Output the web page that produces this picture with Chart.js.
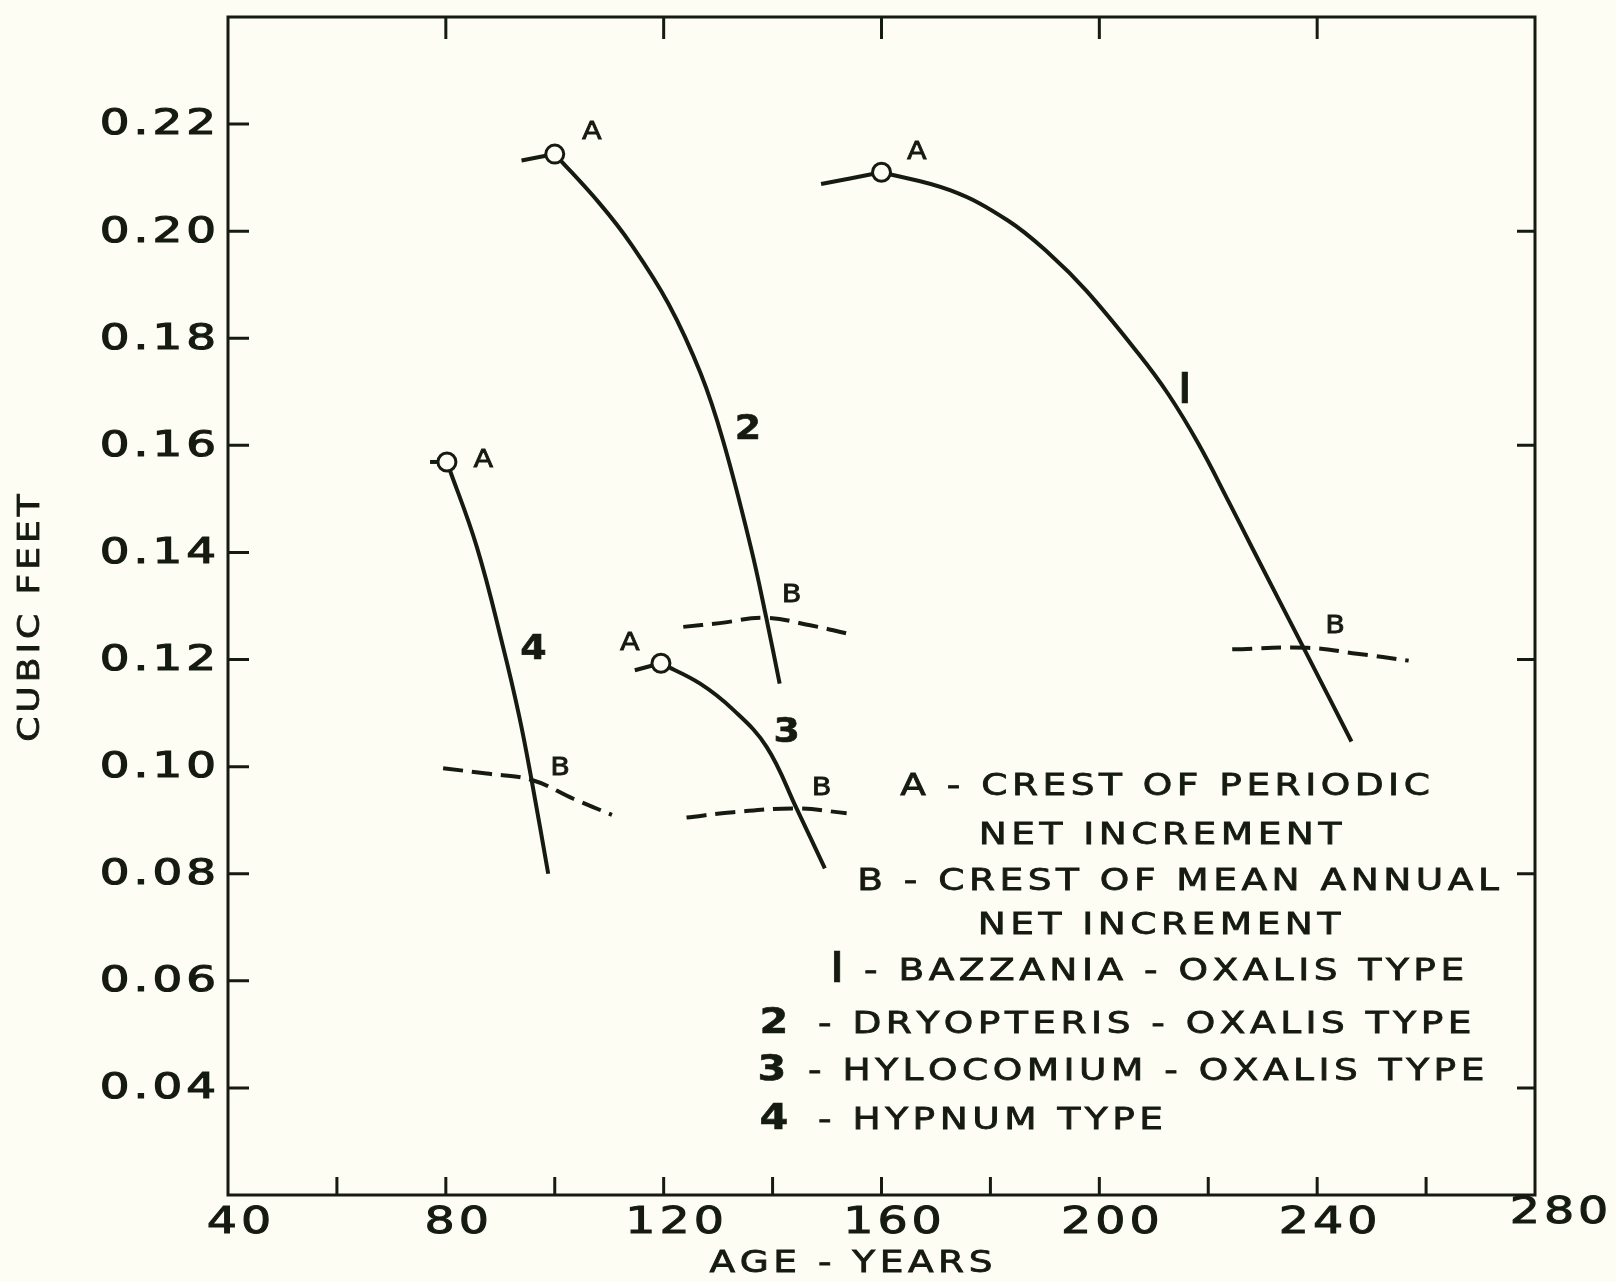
<!DOCTYPE html>
<html>
<head>
<meta charset="utf-8">
<script src="https://cdn.jsdelivr.net/npm/chart.js@4.4.1/dist/chart.umd.min.js"></script>
<style>
  html, body { margin: 0; padding: 0; background: #fdfdf4; }
  #wrap { width: 1616px; height: 1282px; }
</style>
</head>
<body>
<div id="wrap"><canvas id="chart" width="1616" height="1282"></canvas></div>
<script>
// values: age in years, volume in cubic feet

// 1 - Bazzania - Oxalis type (from A downwards)
const curve1Age = [160, 172.7, 183.2, 190.9, 197.6, 207.2, 212.7, 218.2, 223.7, 228.2, 237.7, 246.3];
const curve1Vol = [0.2110, 0.2076, 0.2020, 0.1957, 0.1889, 0.1771, 0.1695, 0.1603, 0.1496, 0.1406, 0.1218, 0.1047];
// 2 - Dryopteris - Oxalis type
const curve2Age = [100, 108.3, 114.0, 120.9, 126.8, 130.9, 136.0, 138.8, 141.3];
const curve2Vol = [0.2144, 0.2051, 0.1976, 0.1864, 0.1734, 0.1609, 0.1410, 0.1280, 0.1155];
// 3 - Hylocomium - Oxalis type
const curve3Age = [119.5, 126.7, 132.8, 138.9, 144.4, 149.6];
const curve3Vol = [0.1193, 0.1155, 0.1106, 0.1037, 0.0922, 0.0810];
// 4 - Hypnum type
const curve4Age = [80.2, 85.7, 90.5, 93.5, 95.8, 98.8];
const curve4Vol = [0.1569, 0.1410, 0.1224, 0.1093, 0.0972, 0.0800];

// short lead-in strokes ending at each A
const lead1Age = [148.9, 160];
const lead1Vol = [0.2088, 0.2110];
const lead2Age = [93.9, 100];
const lead2Vol = [0.2132, 0.2144];
const lead3Age = [114.7, 119.5];
const lead3Vol = [0.1180, 0.1193];
const lead4Age = [77.1, 80.2];
const lead4Vol = [0.1569, 0.1569];

// dashed arcs through B (crest of mean annual net increment)
const b1Age = [224.4, 238.2, 247.3, 256.8];
const b1Vol = [0.1219, 0.1222, 0.1211, 0.1198];
const b2Age = [123.6, 130.3, 138.6, 146.9, 153.6];
const b2Vol = [0.1261, 0.1268, 0.1278, 0.1264, 0.1249];
const b3Age = [124.2, 132.8, 144.4, 153.6];
const b3Vol = [0.0905, 0.0915, 0.0922, 0.0913];
const b4Age = [79.5, 87.5, 95.8, 103.4, 110.5];
const b4Vol = [0.0997, 0.0987, 0.0975, 0.0940, 0.0910];

// A points (crest of periodic net increment), curves 1..4
const crestAge = [160, 100, 119.5, 80.2];
const crestVol = [0.2110, 0.2144, 0.1193, 0.1569];

// annotation letters next to the curves, curves 1..4
const aLabelAge = [166.5, 106.8, 113.8, 86.9];
const aLabelVol = [0.2147, 0.2185, 0.1230, 0.1572];
const bLabelAge = [243.3, 143.5, 149.0, 101.0];
const bLabelVol = [0.1261, 0.1320, 0.0959, 0.0997];
const curveNames = ['I', '2', '3', '4'];
const nameAge = [215.7, 135.5, 142.6, 96.1];
const nameVol = [0.1700, 0.1628, 0.1062, 0.1217];

// axes
const xLabels = [40, 80, 120, 160, 200, 240, 280];
const xTicksBottom = [60, 80, 100, 120, 140, 160, 180, 200, 220, 240, 260];
const xTicksTop = [80, 120, 160, 200, 240];
const yLabels = [0.04, 0.06, 0.08, 0.10, 0.12, 0.14, 0.16, 0.18, 0.20, 0.22];
const yTicksRight = [0.04, 0.08, 0.12, 0.16, 0.20];

const keyLines = [
  'A - CREST OF PERIODIC',
  'NET INCREMENT',
  'B - CREST OF MEAN ANNUAL',
  'NET INCREMENT'
];
const keyNumbers = ['I', '2', '3', '4'];
const keyNames = [
  '- BAZZANIA - OXALIS TYPE',
  '- DRYOPTERIS - OXALIS TYPE',
  '- HYLOCOMIUM - OXALIS TYPE',
  '- HYPNUM TYPE'
];

const ink = '#161b12';
const paper = '#fdfdf4';
const FONT = '"DejaVu Sans", sans-serif';

function pts(xs, ys) {
  return xs.map((x, i) => ({ x: x, y: ys[i] }));
}

function solid(label, xs, ys) {
  return {
    label: label, data: pts(xs, ys), showLine: true,
    borderColor: ink, borderWidth: 4, pointRadius: 0,
    tension: 0.4, order: 2
  };
}

function dashed(label, xs, ys) {
  return {
    label: label, data: pts(xs, ys), showLine: true,
    borderColor: ink, borderWidth: 4, borderDash: [20, 9], pointRadius: 0,
    tension: 0.4, order: 2
  };
}

// wide, spaced-out lettering: each glyph stretched sideways by sx,
// with a thin outline so the strokes come out as heavy as the drawing
function spaced(ctx, text, x, y, align, gap, sx, heavy) {
  sx = sx || 1;
  const chars = [...text];
  const ws = chars.map(c => ctx.measureText(c).width * sx);
  const total = ws.reduce((a, b) => a + b, 0) + gap * (chars.length - 1);
  let cx = x;
  if (align === 'center') cx = x - total / 2;
  else if (align === 'right') cx = x - total;
  ctx.textAlign = 'left';
  chars.forEach((c, i) => {
    ctx.save();
    ctx.translate(cx, y);
    ctx.scale(sx, 1);
    ctx.fillText(c, 0, 0);
    if (heavy) {
      ctx.lineWidth = heavy;
      ctx.strokeText(c, 0, 0);
    }
    ctx.restore();
    cx += ws[i] + gap;
  });
}

const paperPlugin = {
  id: 'paper',
  beforeDraw(chart) {
    const ctx = chart.ctx;
    ctx.save();
    ctx.fillStyle = paper;
    ctx.fillRect(0, 0, chart.width, chart.height);
    ctx.restore();
  }
};

const framePlugin = {
  id: 'frame',
  afterDraw(chart) {
    const ctx = chart.ctx;
    const a = chart.chartArea;
    const xs = chart.scales.x;
    const ys = chart.scales.y;
    ctx.save();
    ctx.strokeStyle = ink;
    ctx.fillStyle = ink;
    ctx.lineWidth = 3;
    ctx.lineCap = 'butt';
    ctx.strokeRect(a.left, a.top, a.right - a.left, a.bottom - a.top);

    // inward tick marks
    ctx.beginPath();
    xTicksBottom.forEach(v => {
      const px = xs.getPixelForValue(v);
      ctx.moveTo(px, a.bottom); ctx.lineTo(px, a.bottom - 18);
    });
    xTicksTop.forEach(v => {
      const px = xs.getPixelForValue(v);
      ctx.moveTo(px, a.top); ctx.lineTo(px, a.top + 22);
    });
    yLabels.forEach(v => {
      const py = ys.getPixelForValue(v);
      ctx.moveTo(a.left, py); ctx.lineTo(a.left + 21, py);
    });
    yTicksRight.forEach(v => {
      const py = ys.getPixelForValue(v);
      ctx.moveTo(a.right, py); ctx.lineTo(a.right - 18, py);
    });
    ctx.stroke();

    // tick labels
    ctx.textBaseline = 'middle';
    ctx.font = '36px ' + FONT;
    yLabels.forEach(v => {
      spaced(ctx, v.toFixed(2), a.left - 12, ys.getPixelForValue(v) + 1, 'right', 4, 1.3, 1.2);
    });
    ctx.font = '38px ' + FONT;
    xLabels.forEach(v => {
      const last = v === xLabels[xLabels.length - 1];
      const px = xs.getPixelForValue(v) + (last ? 24 : 11);
      spaced(ctx, String(v), px, a.bottom + (last ? 18 : 28), 'center', 4, 1.25, 1);
    });

    // axis titles
    ctx.font = '30px ' + FONT;
    spaced(ctx, 'AGE - YEARS', 851, 1264, 'center', 4.5, 1.25, 0.8);
    ctx.save();
    ctx.translate(31, 618);
    ctx.rotate(-Math.PI / 2);
    spaced(ctx, 'CUBIC FEET', 0, 0, 'center', 4, 1.2, 0.8);
    ctx.restore();

    // letters along the curves
    ctx.font = '25px ' + FONT;
    aLabelAge.forEach((v, i) => {
      spaced(ctx, 'A', xs.getPixelForValue(v), ys.getPixelForValue(aLabelVol[i]), 'center', 0, 1.15, 0.8);
    });
    bLabelAge.forEach((v, i) => {
      spaced(ctx, 'B', xs.getPixelForValue(v), ys.getPixelForValue(bLabelVol[i]), 'center', 0, 1.15, 0.8);
    });
    curveNames.forEach((n, i) => {
      ctx.font = n === 'I' ? '42px ' + FONT : 'bold 33px ' + FONT;
      spaced(ctx, n, xs.getPixelForValue(nameAge[i]), ys.getPixelForValue(nameVol[i]), 'center', 0, n === 'I' ? 1.3 : 1.15, 0.6);
    });

    // key
    ctx.font = '30px ' + FONT;
    spaced(ctx, keyLines[0], 1165, 787, 'center', 4.5, 1.25, 0.8);
    spaced(ctx, keyLines[1], 1160, 836, 'center', 4.5, 1.25, 0.8);
    spaced(ctx, keyLines[2], 1178, 882, 'center', 4.5, 1.25, 0.8);
    spaced(ctx, keyLines[3], 1159, 926, 'center', 4.5, 1.25, 0.8);
    const nameX = [864, 818, 808, 818];
    const nameY = [972, 1025, 1072, 1121];
    const numX = [837, 774, 772, 774];
    keyNames.forEach((t, i) => {
      ctx.font = '30px ' + FONT;
      spaced(ctx, t, nameX[i], nameY[i], 'left', 4.5, 1.25, 0.8);
      ctx.font = i === 0 ? '42px ' + FONT : 'bold 36px ' + FONT;
      spaced(ctx, keyNumbers[i], numX[i], nameY[i] - 1, 'center', 0, i === 0 ? 1.3 : 1.15, 0.6);
    });
    ctx.restore();
  }
};

new Chart(document.getElementById('chart'), {
  type: 'scatter',
  data: {
    datasets: [
      {
        label: 'A', data: pts(crestAge, crestVol), showLine: false,
        pointRadius: 9, pointBorderWidth: 3, pointBorderColor: ink,
        pointBackgroundColor: paper, order: 0
      },
      solid('1', curve1Age, curve1Vol),
      solid('2', curve2Age, curve2Vol),
      solid('3', curve3Age, curve3Vol),
      solid('4', curve4Age, curve4Vol),
      solid('lead 1', lead1Age, lead1Vol),
      solid('lead 2', lead2Age, lead2Vol),
      solid('lead 3', lead3Age, lead3Vol),
      solid('lead 4', lead4Age, lead4Vol),
      dashed('B1', b1Age, b1Vol),
      dashed('B2', b2Age, b2Vol),
      dashed('B3', b3Age, b3Vol),
      dashed('B4', b4Age, b4Vol)
    ]
  },
  options: {
    responsive: false,
    devicePixelRatio: 1,
    animation: false,
    layout: { padding: { left: 0, top: 17, right: 81, bottom: 0 } },
    plugins: { legend: { display: false }, tooltip: { enabled: false } },
    scales: {
      x: {
        type: 'linear', min: 40, max: 280,
        ticks: { display: false }, grid: { display: false }, border: { display: false },
        afterFit: s => { s.height = 87; }
      },
      y: {
        type: 'linear', min: 0.02, max: 0.24,
        ticks: { display: false }, grid: { display: false }, border: { display: false },
        afterFit: s => { s.width = 228; }
      }
    }
  },
  plugins: [paperPlugin, framePlugin]
});
</script>
</body>
</html>
